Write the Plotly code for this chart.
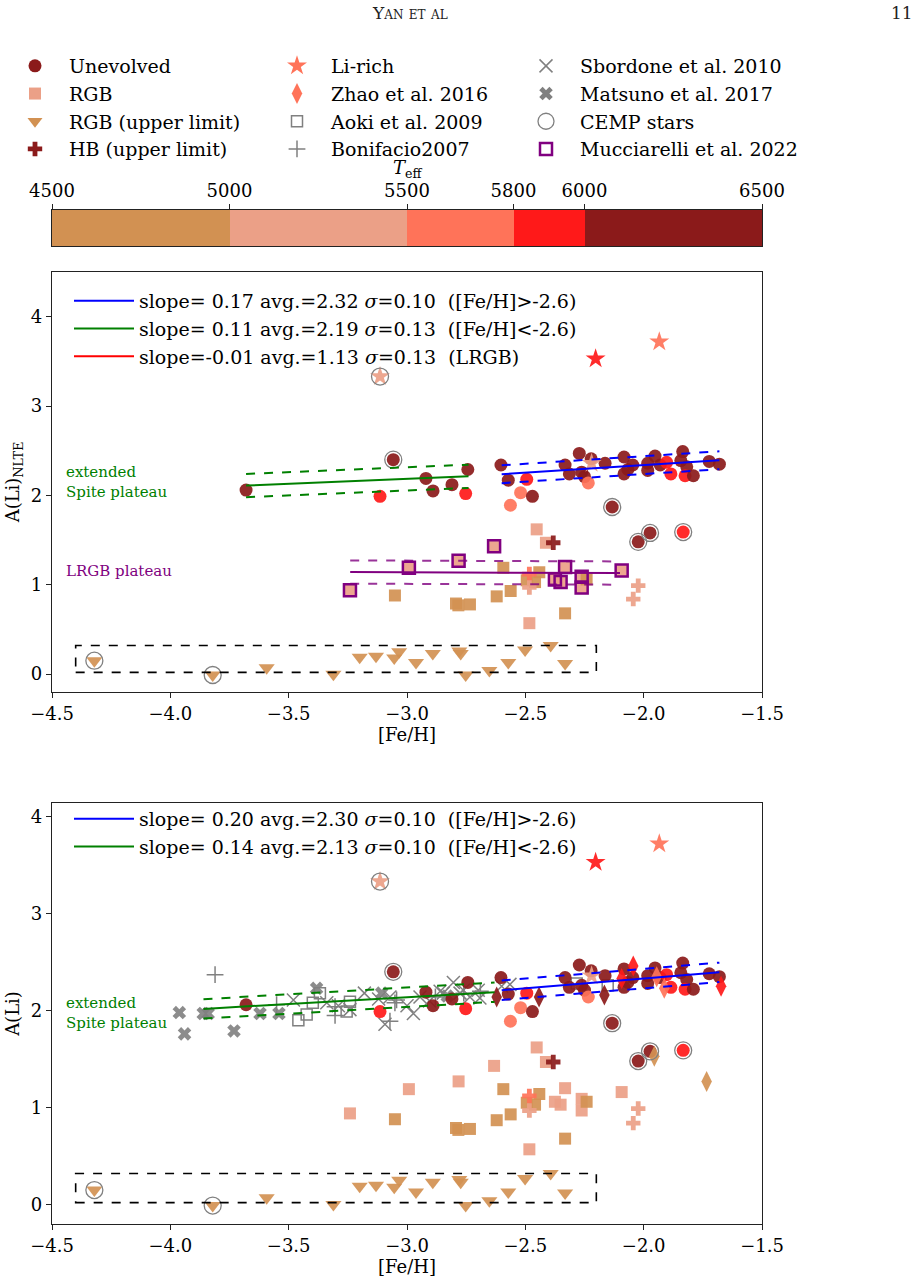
import plotly.graph_objects as go

W, H = 923, 1281
FONT = "DejaVu Serif"

# ---------------- data ----------------
TEFF_EDGES = [4500, 5000, 5500, 5800, 6000, 6500]
TEFF_TICKTEXT = ["4500", "5000", "5500", "5800", "6000", "6500"]
TEFF_COLORS = ["rgb(210,145,82)", "rgb(235,160,135)", "rgb(255,115,89)",
               "rgb(255,25,25)", "rgb(139,26,26)"]

X_TICKS = [-4.5, -4.0, -3.5, -3.0, -2.5, -2.0, -1.5]
X_TICKTEXT = ["\u22124.5", "\u22124.0", "\u22123.5", "\u22123.0", "\u22122.5", "\u22122.0", "\u22121.5"]
Y_TICKS = [0, 1, 2, 3, 4]

# Unevolved stars
DW_FEH = [-3.68, -3.058, -2.92, -2.89, -2.81, -3.114, -2.743, -2.752, -2.603, -2.572,
          -2.494, -2.52, -2.47, -2.563, -2.272, -2.332, -2.314, -2.222, -2.262, -2.25,
          -2.234, -2.163, -2.083, -2.046, -2.067, -2.083, -1.983, -1.983, -1.952, -1.93,
          -1.903, -1.885, -1.835, -1.843, -1.818, -1.825, -1.79, -1.723, -1.68,
          -2.133, -2.023, -1.973, -1.833]
DW_ALI = [2.06, 2.40, 2.19, 2.05, 2.12, 1.99, 2.29, 2.02, 2.34, 2.17,
          2.18, 2.03, 1.99, 1.89, 2.47, 2.34, 2.24, 2.41, 2.26, 2.21,
          2.14, 2.36, 2.43, 2.34, 2.29, 2.24, 2.36, 2.28, 2.44, 2.34,
          2.37, 2.24, 2.49, 2.39, 2.32, 2.22, 2.22, 2.38, 2.35,
          1.87, 1.48, 1.58, 1.59]
DW_TEFF = [6200, 6200, 6200, 6200, 6200, 5900, 6200, 5900, 6200, 6200,
           5900, 5650, 6200, 5650, 6200, 6200, 6200, 6200, 6200, 6200,
           5650, 6200, 6200, 6200, 6200, 6200, 6200, 6200, 6200, 6200,
           5900, 5900, 6200, 6200, 6200, 5900, 6200, 6200, 6200,
           6200, 6200, 6200, 5900]

# RGB stars (detections)
RGB_FEH = [-3.241, -2.992, -2.782, -2.632, -2.332, -2.375, -2.351, -2.262, -2.262, -2.093,
           -2.452, -2.413, -2.483,
           -3.051, -2.793, -2.783, -2.734, -2.593, -2.621, -2.562, -2.441, -2.494, -2.459,
           -2.332, -2.241]
RGB_ALI = [0.94, 1.19, 1.27, 1.43, 1.20, 1.06, 1.03, 1.09, 0.97, 1.16,
           1.62, 1.47, 0.57,
           0.88, 0.79, 0.77, 0.78, 1.19, 0.87, 0.93, 1.14, 1.05, 1.03,
           0.68, 1.06]
RGB_TEFF = [5250, 5250, 5250, 5250, 5250, 5250, 5250, 5250, 5250, 5250,
            5250, 5250, 5250,
            4750, 4750, 4750, 4750, 4750, 4750, 4750, 4750, 4750, 4750,
            4750, 4750]

# RGB upper limits
UL_FEH = [-4.321, -3.821, -3.593, -3.311, -3.2, -3.131, -3.054, -3.033, -2.962, -2.891,
          -2.779, -2.773, -2.752, -2.652, -2.572, -2.501, -2.393, -2.332]
UL_ALI = [0.15, -0.01, 0.07, 0.0, 0.19, 0.20, 0.18, 0.25, 0.13, 0.23,
          0.26, 0.23, -0.01, 0.04, 0.13, 0.27, 0.32, 0.12]
UL_TEFF = [4750] * 18

# HB upper limits
HB_FEH = [-2.382, -2.483, -2.483, -2.023, -2.044]
HB_ALI = [1.47, 1.12, 0.97, 0.99, 0.84]
HB_TEFF = [6200, 5650, 5250, 5250, 5250]

# Li-rich stars
LIR_FEH = [-3.114, -2.203, -1.934, -2.22]
LIR_ALI = [3.33, 3.53, 3.72, 2.36]
LIR_TEFF = [5250, 5900, 5650, 5250]

# CEMP stars
CEMP_FEH = [-4.321, -3.821, -3.114, -3.058, -2.133, -2.023, -1.973, -1.833]
CEMP_ALI = [0.15, -0.01, 3.33, 2.40, 1.87, 1.48, 1.58, 1.59]

# Mucciarelli et al. 2022 (NLTE panel only)
MUC_FEH = [-3.241, -2.992, -2.782, -2.632, -2.332, -2.375, -2.351, -2.262, -2.262, -2.093]
MUC_ALI = [0.94, 1.19, 1.27, 1.43, 1.20, 1.06, 1.03, 1.09, 0.97, 1.16]

# Zhao et al. 2016 (LTE panel only)
ZH_FEH = [-2.044, -2.442, -2.621, -2.166, -1.913, -1.673, -1.945, -2.093, -1.955, -1.734]
ZH_ALI = [2.46, 2.14, 2.14, 2.16, 2.23, 2.25, 2.35, 2.33, 1.53, 1.27]
ZH_TEFF = [5900, 6200, 6200, 6200, 5650, 5900, 5650, 5900, 4750, 4750]

# Aoki et al. 2009
AO_FEH = [-3.459, -3.424, -3.398, -3.368, -3.241, -3.255, -2.283, -2.152]
AO_ALI = [1.90, 1.96, 2.08, 2.18, 2.09, 1.99, 2.28, 2.26]

# Bonifacio 2007
BO_FEH = [-3.811, -3.551, -3.304, -3.304, -3.044, -3.072, -3.051, -2.88, -2.76, -2.69]
BO_ALI = [2.37, 2.06, 1.95, 2.04, 2.11, 1.89, 2.08, 2.14, 2.18, 2.20]

# Sbordone et al. 2010
SB_FEH = [-3.48, -3.339, -3.241, -3.18, -3.093, -3.072, -2.973, -2.945, -2.905, -2.847,
          -2.804, -2.762, -2.699, -2.692, -2.60, -2.565, -2.86, -2.776, -2.734, -3.0,
          -3.29, -3.12]
SB_ALI = [2.11, 2.08, 2.01, 2.18, 1.86, 2.14, 1.97, 2.14, 2.10, 2.18,
          2.29, 2.21, 2.21, 2.13, 2.25, 2.27, 2.20, 2.18, 2.14, 2.05,
          2.05, 2.12]

# Matsuno et al. 2017
MA_FEH = [-3.962, -3.94, -3.861, -3.84, -3.731, -3.621, -3.541, -3.382, -3.107, -2.83]
MA_ALI = [1.98, 1.76, 1.97, 1.97, 1.79, 1.97, 1.97, 2.23, 2.18, 2.15]

# Linear fits: slope, intercept, sigma, x range
FIT_TOP = {
    "hi":   dict(slope=0.17, icpt=2.679, sig=0.10, x0=-2.60, x1=-1.68),
    "lo":   dict(slope=0.11, icpt=2.515, sig=0.13, x0=-3.68, x1=-2.74),
    "lrgb": dict(slope=-0.01, icpt=1.110, sig=0.13, x0=-3.24, x1=-2.10),
}
FIT_BOT = {
    "hi": dict(slope=0.20, icpt=2.730, sig=0.10, x0=-2.60, x1=-1.68),
    "lo": dict(slope=0.14, icpt=2.558, sig=0.10, x0=-3.86, x1=-2.63),
}
FIT_LABELS_TOP = [
    "slope= 0.17 avg.=2.32 <i>\u03c3</i>=0.10  ([Fe/H]>-2.6)",
    "slope= 0.11 avg.=2.19 <i>\u03c3</i>=0.13  ([Fe/H]<-2.6)",
    "slope=-0.01 avg.=1.13 <i>\u03c3</i>=0.13  (LRGB)",
]
FIT_LABELS_BOT = [
    "slope= 0.20 avg.=2.30 <i>\u03c3</i>=0.10  ([Fe/H]>-2.6)",
    "slope= 0.14 avg.=2.13 <i>\u03c3</i>=0.10  ([Fe/H]<-2.6)",
]
BOX_X = [-4.4, -2.2]
BOX_Y = [0.02, 0.32]


def teff_color(t):
    for lo, hi, c in zip(TEFF_EDGES[:-1], TEFF_EDGES[1:], TEFF_COLORS):
        if lo <= t < hi:
            return c
    return TEFF_COLORS[-1]


def px_x(p):
    return p / W


def px_y(p):
    return 1 - p / H


fig = go.Figure()
GREY = "rgb(128,128,128)"


def add_points(feh, ali, teff, symbol, size, xa, ya, opacity=0.92):
    fig.add_trace(go.Scatter(
        x=feh, y=ali, mode="markers", xaxis=xa, yaxis=ya, showlegend=False,
        hoverinfo="skip",
        marker=dict(symbol=symbol, size=size, color=[teff_color(t) for t in teff],
                    opacity=opacity, line=dict(width=0))))


def add_fit(fit, color, xa, ya, dash_color=None):
    xs = [fit["x0"], fit["x1"]]
    ys = [fit["slope"] * x + fit["icpt"] for x in xs]
    dc = dash_color or color
    for off, dash, col in ((0, "solid", color), (fit["sig"], "dash", dc), (-fit["sig"], "dash", dc)):
        fig.add_trace(go.Scatter(x=xs, y=[v + off for v in ys], mode="lines", xaxis=xa, yaxis=ya,
                                 showlegend=False, hoverinfo="skip",
                                 line=dict(color=col, width=2, dash=dash)))


for xa, ya in (("x", "y"), ("x2", "y2")):
    bot = ya == "y2"
    if bot:
        # literature
        fig.add_trace(go.Scatter(x=MA_FEH, y=MA_ALI, mode="markers", xaxis=xa, yaxis=ya,
                                 showlegend=False, hoverinfo="skip",
                                 marker=dict(symbol="x", size=12, color=GREY, opacity=0.9,
                                             line=dict(width=0))))
        fig.add_trace(go.Scatter(x=SB_FEH, y=SB_ALI, mode="markers", xaxis=xa, yaxis=ya,
                                 showlegend=False, hoverinfo="skip",
                                 marker=dict(symbol="x-thin-open", size=13, color=GREY,
                                             line=dict(width=1.5, color=GREY))))
        fig.add_trace(go.Scatter(x=BO_FEH, y=BO_ALI, mode="markers", xaxis=xa, yaxis=ya,
                                 showlegend=False, hoverinfo="skip",
                                 marker=dict(symbol="cross-thin-open", size=12, color=GREY,
                                             line=dict(width=1.5, color=GREY))))
        fig.add_trace(go.Scatter(x=AO_FEH, y=AO_ALI, mode="markers", xaxis=xa, yaxis=ya,
                                 showlegend=False, hoverinfo="skip",
                                 marker=dict(symbol="square-open", size=11, color=GREY,
                                             line=dict(width=1.5, color=GREY))))
    add_points(RGB_FEH, RGB_ALI, RGB_TEFF, "square", 12, xa, ya)
    add_points(UL_FEH, UL_ALI, UL_TEFF, "triangle-down", 14, xa, ya)
    add_points(HB_FEH, HB_ALI, HB_TEFF, "cross", 12, xa, ya)
    add_points(DW_FEH, DW_ALI, DW_TEFF, "circle", 13, xa, ya)
    add_points(LIR_FEH, LIR_ALI, LIR_TEFF, "star", 15, xa, ya)
    if bot:
        add_points(ZH_FEH, ZH_ALI, ZH_TEFF, "diamond-tall", 15, xa, ya)
    fig.add_trace(go.Scatter(x=CEMP_FEH, y=CEMP_ALI, mode="markers", xaxis=xa, yaxis=ya,
                             showlegend=False, hoverinfo="skip",
                             marker=dict(symbol="circle-open", size=17, color=GREY,
                                         line=dict(width=1.3, color=GREY))))
    if not bot:
        fig.add_trace(go.Scatter(x=MUC_FEH, y=MUC_ALI, mode="markers", xaxis=xa, yaxis=ya,
                                 showlegend=False, hoverinfo="skip",
                                 marker=dict(symbol="square-open", size=12, color="purple",
                                             line=dict(width=2.5, color="purple"))))
        add_fit(FIT_TOP["hi"], "blue", xa, ya)
        add_fit(FIT_TOP["lo"], "green", xa, ya)
        add_fit(FIT_TOP["lrgb"], "purple", xa, ya, dash_color="rgba(128,0,128,0.8)")
    else:
        add_fit(FIT_BOT["hi"], "blue", xa, ya)
        add_fit(FIT_BOT["lo"], "green", xa, ya)
    # box around upper-limit stars
    fig.add_shape(type="rect", xref=xa, yref=ya, x0=BOX_X[0], x1=BOX_X[1],
                  y0=BOX_Y[0], y1=BOX_Y[1],
                  line=dict(color="black", width=1.6, dash="dash"))

# ---------------- legends (legend-only entries) ----------------
LEG_COLS = [
    [("Unevolved", dict(symbol="circle", size=13, color=TEFF_COLORS[4])),
     ("RGB", dict(symbol="square", size=12, color=TEFF_COLORS[1])),
     ("RGB (upper limit)", dict(symbol="triangle-down", size=13, color=TEFF_COLORS[0])),
     ("HB (upper limit)", dict(symbol="cross", size=12, color=TEFF_COLORS[4]))],
    [("Li-rich", dict(symbol="star", size=15, color=TEFF_COLORS[2])),
     ("Zhao et al. 2016", dict(symbol="diamond-tall", size=15, color=TEFF_COLORS[2])),
     ("Aoki et al. 2009", dict(symbol="square-open", size=11, color=GREY, line=dict(width=1.5, color=GREY))),
     ("Bonifacio2007", dict(symbol="cross-thin-open", size=12, color=GREY, line=dict(width=1.5, color=GREY)))],
    [("Sbordone et al. 2010", dict(symbol="x-thin-open", size=13, color=GREY, line=dict(width=1.5, color=GREY))),
     ("Matsuno et al. 2017", dict(symbol="x", size=12, color=GREY)),
     ("CEMP stars", dict(symbol="circle-open", size=16, color=GREY, line=dict(width=1.3, color=GREY))),
     ("Mucciarelli et al. 2022", dict(symbol="square-open", size=12, color="purple", line=dict(width=2.5, color="purple")))],
]
leg_names = ["legend", "legend2", "legend3"]
for name, col in zip(leg_names, LEG_COLS):
    for label, mk in col:
        fig.add_trace(go.Scatter(x=[None], y=[None], mode="markers", name=label, legend=name,
                                 marker=mk, xaxis="x", yaxis="y"))

for label, color in zip(FIT_LABELS_TOP, ["blue", "green", "red"]):
    fig.add_trace(go.Scatter(x=[None], y=[None], mode="lines", name=label, legend="legend4",
                             line=dict(color=color, width=2), xaxis="x", yaxis="y"))
for label, color in zip(FIT_LABELS_BOT, ["blue", "green"]):
    fig.add_trace(go.Scatter(x=[None], y=[None], mode="lines", name=label, legend="legend5",
                             line=dict(color=color, width=2), xaxis="x2", yaxis="y2"))

# ---------------- Teff colour bar ----------------
n = len(TEFF_COLORS)
cs = []
for i, c in enumerate(TEFF_COLORS):
    cs.append([i / n, c])
    cs.append([(i + 1) / n, c])
fig.add_trace(go.Heatmap(x=TEFF_EDGES, y=[0, 1], z=[[i + 0.5 for i in range(n)]],
                         zmin=0, zmax=n, colorscale=cs, showscale=False,
                         xaxis="x3", yaxis="y3", hoverinfo="skip"))

# ---------------- layout ----------------
X_DOM = [px_x(52), px_x(762)]
TOP_DOM = [px_y(692), px_y(272)]
BOT_DOM = [px_y(1224), px_y(803)]
CB_DOM = [px_y(246), px_y(210)]

tickfont = dict(family=FONT, size=18, color="black")
ax_common = dict(showline=True, linecolor="#222", linewidth=1.2, mirror=True,
                 ticks="outside", ticklen=5, tickwidth=1.2, tickcolor="#222",
                 showgrid=False, zeroline=False, tickfont=tickfont, automargin=False)

legfont = dict(family=FONT, size=19, color="black")
leg_common = dict(xanchor="left", yanchor="top", bgcolor="rgba(0,0,0,0)",
                  font=legfont, tracegroupgap=0, itemclick=False)

fig.update_layout(
    width=W, height=H, margin=dict(l=0, r=0, t=0, b=0, autoexpand=False),
    paper_bgcolor="white", plot_bgcolor="white",
    font=dict(family=FONT, size=18, color="black"),
    xaxis=dict(domain=X_DOM, anchor="y", range=[-4.5, -1.5], tickvals=X_TICKS,
               ticktext=X_TICKTEXT, title=dict(text="[Fe/H]", font=tickfont, standoff=2),
               **ax_common),
    yaxis=dict(domain=TOP_DOM, anchor="x", range=[-0.2, 4.5], tickvals=Y_TICKS,
               title=dict(text="A(Li)<sub>NLTE</sub>", font=tickfont, standoff=6),
               **ax_common),
    xaxis2=dict(domain=X_DOM, anchor="y2", range=[-4.5, -1.5], tickvals=X_TICKS,
                ticktext=X_TICKTEXT, title=dict(text="[Fe/H]", font=tickfont, standoff=2),
                **ax_common),
    yaxis2=dict(domain=BOT_DOM, anchor="x2", range=[-0.2, 4.14], tickvals=Y_TICKS,
                title=dict(text="A(Li)", font=tickfont, standoff=6),
                **ax_common),
    xaxis3=dict(domain=X_DOM, anchor="y3", range=[4500, 6500], side="top",
                tickvals=TEFF_EDGES, ticktext=TEFF_TICKTEXT,
                **ax_common),
    yaxis3=dict(domain=CB_DOM, anchor="x3", range=[0, 1], showticklabels=False,
                showline=True, linecolor="#222", linewidth=1.2, mirror=True,
                ticks="", showgrid=False, zeroline=False, automargin=False),
    legend=dict(x=px_x(1), y=px_y(47), itemwidth=58, **leg_common),
    legend2=dict(x=px_x(263), y=px_y(47), itemwidth=58, **leg_common),
    legend3=dict(x=px_x(512), y=px_y(47), itemwidth=58, **leg_common),
    legend4=dict(x=px_x(69), y=px_y(282), itemwidth=60, **leg_common),
    legend5=dict(x=px_x(69), y=px_y(800), itemwidth=60, **leg_common),
)

# colour-bar label (T_eff)
fig.add_annotation(x=(X_DOM[0] + X_DOM[1]) / 2, y=px_y(169), xref="paper", yref="paper",
                   text="<i>T</i><sub>eff</sub>", showarrow=False, xanchor="center",
                   yanchor="middle", font=tickfont)

# text annotations
ann_font_g = dict(family=FONT, size=15, color="green")
fig.add_annotation(x=-4.45, y=2.15, xref="x", yref="y", text="extended<br>Spite plateau",
                   showarrow=False, xanchor="left", yanchor="middle", align="left", font=ann_font_g)
fig.add_annotation(x=-4.45, y=1.15, xref="x", yref="y", text="LRGB plateau",
                   showarrow=False, xanchor="left", yanchor="middle", align="left",
                   font=dict(family=FONT, size=15, color="purple"))
fig.add_annotation(x=-4.45, y=1.98, xref="x2", yref="y2", text="extended<br>Spite plateau",
                   showarrow=False, xanchor="left", yanchor="middle", align="left", font=ann_font_g)

# running header
fig.add_annotation(x=px_x(410), y=px_y(13), xref="paper", yref="paper", text="Yan et al",
                   showarrow=False, xanchor="center", yanchor="middle",
                   font=dict(family=FONT, size=17, color="#222", variant="small-caps"))
fig.add_annotation(x=px_x(915), y=px_y(13), xref="paper", yref="paper", text="11",
                   showarrow=False, xanchor="right", yanchor="middle",
                   font=dict(family=FONT, size=17, color="#222"))

fig.write_html("out.html")
